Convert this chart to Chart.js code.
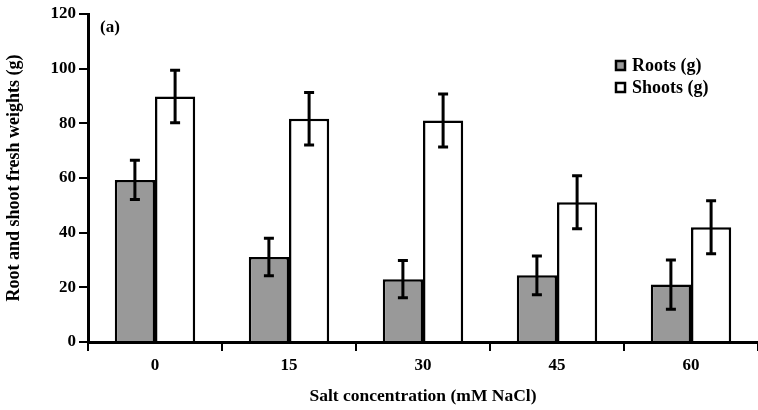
<!DOCTYPE html>
<html>
<head>
<meta charset="utf-8">
<script src="https://cdn.jsdelivr.net/npm/chart.js@4.4.1/dist/chart.umd.min.js"></script>
<style>
  body { margin: 0; background: #fff; }
  #wrap { width: 758px; height: 410px; position: relative; }
</style>
</head>
<body>
<div id="wrap"><canvas id="chart"></canvas></div>
<script>
const categories = ['0', '15', '30', '45', '60'];
const rootsValues = [59.3, 31.1, 23.0, 24.4, 21.0];
const rootsErrors = [7.2, 6.9, 6.8, 7.1, 9.0];
const shootsValues = [89.8, 81.7, 81.0, 51.1, 42.0];
const shootsErrors = [9.6, 9.6, 9.7, 9.7, 9.7];
const yTicks = [0, 20, 40, 60, 80, 100, 120];

const serif = '"Liberation Serif", "DejaVu Serif", serif';

// error bars drawn on top of each bar, using the y scale
const errorBars = {
    id: 'errorBars',
    afterDatasetsDraw(chart) {
        const ctx = chart.ctx;
        const y = chart.scales.y;
        ctx.save();
        ctx.strokeStyle = '#000';
        ctx.lineWidth = 3;
        chart.data.datasets.forEach((ds, i) => {
            const meta = chart.getDatasetMeta(i);
            meta.data.forEach((bar, j) => {
                const v = ds.data[j];
                const e = ds.errors[j];
                const top = y.getPixelForValue(v + e);
                const bot = y.getPixelForValue(v - e);
                ctx.beginPath();
                ctx.moveTo(bar.x, top);
                ctx.lineTo(bar.x, bot);
                ctx.moveTo(bar.x - 5, top);
                ctx.lineTo(bar.x + 5, top);
                ctx.moveTo(bar.x - 5, bot);
                ctx.lineTo(bar.x + 5, bot);
                ctx.stroke();
            });
        });
        ctx.restore();
    }
};

// panel tag and the legend inside the plot
const panelLegend = {
    id: 'panelLegend',
    afterDraw(chart) {
        const ctx = chart.ctx;
        ctx.save();
        ctx.fillStyle = '#000';
        ctx.font = 'bold 17px ' + serif;
        ctx.textBaseline = 'middle';
        ctx.fillText('(a)', 100, 28);

        ctx.font = 'bold 18px ' + serif;
        chart.data.datasets.forEach((ds, i) => {
            const yy = 65 + i * 22;
            ctx.fillStyle = ds.backgroundColor;
            ctx.fillRect(616, yy - 4, 9, 9);
            ctx.strokeStyle = '#000';
            ctx.lineWidth = 2.5;
            ctx.strokeRect(616, yy - 4, 9, 9);
            ctx.fillStyle = '#000';
            ctx.fillText(ds.label, 632, yy + 1);
        });
        ctx.restore();
    }
};

new Chart(document.getElementById('chart'), {
    type: 'bar',
    data: {
        labels: categories,
        datasets: [
            {
                label: 'Roots (g)',
                data: rootsValues,
                errors: rootsErrors,
                backgroundColor: '#999999',
                borderColor: '#000',
                borderWidth: 2.5,
                categoryPercentage: 0.6,
                barPercentage: 1.0
            },
            {
                label: 'Shoots (g)',
                data: shootsValues,
                errors: shootsErrors,
                backgroundColor: '#ffffff',
                borderColor: '#000',
                borderWidth: 2.5,
                categoryPercentage: 0.6,
                barPercentage: 1.0
            }
        ]
    },
    options: {
        responsive: true,
        maintainAspectRatio: false,
        animation: false,
        layout: { padding: { top: 14, left: 4, right: 0, bottom: 3 } },
        plugins: {
            legend: { display: false },
            tooltip: { enabled: false }
        },
        scales: {
            x: {
                grid: {
                    display: true,
                    drawOnChartArea: false,
                    drawTicks: true,
                    tickLength: 9,
                    color: '#000',
                    lineWidth: 2
                },
                border: { display: true, color: '#000', width: 3 },
                ticks: {
                    color: '#000',
                    font: { family: serif, size: 17, weight: 'bold' },
                    padding: 4
                },
                title: {
                    display: true,
                    text: 'Salt concentration (mM NaCl)',
                    color: '#000',
                    font: { family: serif, size: 17.5, weight: 'bold' },
                    padding: { top: 8, bottom: 0 }
                },
                afterFit(scale) { scale.height = 65; }
            },
            y: {
                min: 0,
                max: 120,
                afterBuildTicks(scale) {
                    scale.ticks = yTicks.map(v => ({ value: v }));
                },
                grid: {
                    display: true,
                    drawOnChartArea: false,
                    drawTicks: true,
                    tickLength: 9,
                    color: '#000',
                    lineWidth: 2
                },
                border: { display: true, color: '#000', width: 3 },
                ticks: {
                    color: '#000',
                    font: { family: serif, size: 17, weight: 'bold' },
                    padding: 3
                },
                title: {
                    display: true,
                    text: 'Root and shoot fresh weights (g)',
                    color: '#000',
                    font: { family: serif, size: 18, weight: 'bold' },
                    padding: { top: 0, bottom: 0 }
                },
                afterFit(scale) { scale.width = 84; }
            }
        }
    },
    plugins: [errorBars, panelLegend]
});
</script>
</body>
</html>
